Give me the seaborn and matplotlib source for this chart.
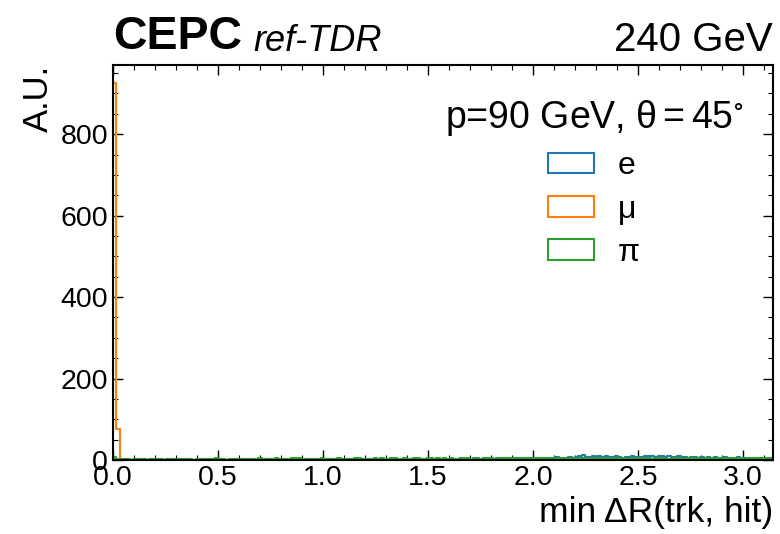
import numpy as np
import pandas as pd
import matplotlib
matplotlib.use("Agg")
import matplotlib.pyplot as plt
import seaborn as sns
from matplotlib.patches import Patch
from matplotlib.ticker import MultipleLocator

# ---------------- data ----------------
particles = ["e", "μ", "π"]
colors = ["#1f77b4", "#ff7f0e", "#2ca02c"]
bin_lo, bin_hi, n_bins = 0.0, np.pi, 200

e_counts = [
    0, 0, 0, 0, 0, 0, 0, 0, 0, 0, 0, 0, 0, 0, 0, 0, 0, 0, 0, 0,
    0, 0, 0, 0, 0, 0, 0, 0, 0, 0, 0, 1, 0, 0, 0, 0, 0, 0, 0, 0,
    0, 0, 0, 0, 0, 0, 0, 1, 0, 0, 0, 0, 0, 1, 0, 0, 0, 0, 0, 1,
    0, 0, 1, 0, 0, 1, 0, 0, 1, 0, 0, 1, 0, 1, 0, 0, 1, 0, 1, 1,
    1, 0, 1, 1, 0, 2, 1, 1, 2, 1, 1, 2, 1, 2, 3, 2, 1, 2, 3, 2,
    3, 2, 2, 3, 2, 4, 3, 2, 3, 4, 3, 3, 4, 3, 5, 3, 4, 4, 3, 5,
    4, 5, 4, 6, 5, 4, 5, 6, 5, 5, 6, 5, 4, 6, 7, 6, 5, 6, 7, 6,
    8, 10, 12, 8, 7, 9, 8, 10, 7, 9, 8, 7, 9, 8, 6, 8, 7, 9, 8, 7,
    8, 10, 9, 11, 8, 10, 9, 8, 10, 8, 7, 9, 8, 7, 6, 8, 7, 6, 7, 6,
    7, 6, 8, 6, 5, 7, 6, 5, 6, 7, 5, 6, 5, 6, 5, 4, 6, 5, 4, 5,
]
# muon: only these bins are non-empty
mu_nonzero = {0: 925, 1: 75, 60: 1}
pi_counts = [
    8, 3, 2, 2, 3, 1, 2, 2, 3, 2, 1, 3, 3, 2, 2, 1, 2, 3, 3, 2,
    2, 3, 2, 2, 1, 2, 3, 3, 2, 2, 3, 4, 3, 2, 1, 2, 2, 3, 2, 3,
    3, 2, 2, 3, 4, 3, 3, 2, 2, 4, 3, 3, 2, 3, 4, 5, 4, 3, 2, 3,
    2, 3, 3, 4, 3, 3, 2, 3, 4, 3, 3, 2, 3, 4, 4, 3, 2, 3, 3, 4,
    3, 4, 3, 3, 4, 5, 3, 3, 4, 3, 3, 4, 4, 3, 3, 5, 4, 3, 4, 3,
    4, 3, 4, 3, 3, 4, 5, 4, 3, 3, 4, 3, 4, 5, 4, 3, 3, 4, 5, 4,
    4, 4, 5, 3, 4, 4, 3, 5, 4, 4, 5, 4, 3, 4, 5, 4, 4, 5, 4, 3,
    4, 5, 4, 4, 3, 5, 4, 4, 5, 4, 3, 4, 5, 4, 4, 3, 5, 4, 4, 3,
    4, 4, 5, 3, 4, 4, 5, 4, 3, 4, 4, 5, 4, 3, 4, 5, 4, 4, 3, 4,
    5, 4, 3, 4, 4, 5, 3, 4, 4, 5, 4, 3, 4, 4, 5, 4, 3, 4, 4, 3,
]

x_label = "min ΔR(trk, hit)"
y_label = "A.U."
legend_title = r"p=90 GeV, $\theta = 45^{\circ}$"
exp_text, sub_text, energy_text = "CEPC", "ref-TDR", "240 GeV"

# ---------------- build table ----------------
edges = np.linspace(bin_lo, bin_hi, n_bins + 1)
centers = 0.5 * (edges[:-1] + edges[1:])
mu_counts = np.zeros(n_bins)
for k, v in mu_nonzero.items():
    mu_counts[k] = v
frames = []
for name, cnt in zip(particles, [e_counts, mu_counts, pi_counts]):
    frames.append(pd.DataFrame({"x": centers, "w": np.asarray(cnt, float), "particle": name}))
df = pd.concat(frames, ignore_index=True)

# ---------------- style ----------------
sns.set_theme(style="ticks")
plt.rcParams["font.family"] = ["Liberation Sans", "DejaVu Sans"]
plt.rcParams["mathtext.fontset"] = "custom"
plt.rcParams["mathtext.rm"] = "Liberation Sans"
plt.rcParams["mathtext.it"] = "Liberation Sans:italic"
plt.rcParams["mathtext.default"] = "regular"
for key in ["text.color", "axes.labelcolor", "xtick.color", "ytick.color",
            "axes.edgecolor", "xtick.labelcolor", "ytick.labelcolor"]:
    plt.rcParams[key] = "black"

fig = plt.figure(figsize=(7.8, 5.34), dpi=100)
ax = fig.add_axes([0.145, 0.1386, 0.846, 0.7397])

for name, col in zip(particles, colors):
    sns.histplot(data=df[df["particle"] == name], x="x", weights="w",
                 bins=n_bins, binrange=(bin_lo, bin_hi),
                 element="step", fill=False, color=col, linewidth=1.5, ax=ax)

ax.set_xlim(0, np.pi)
ax.set_ylim(0, 970)
ax.xaxis.set_major_locator(MultipleLocator(0.5))
ax.xaxis.set_minor_locator(MultipleLocator(0.1))
ax.yaxis.set_major_locator(MultipleLocator(200))
ax.yaxis.set_minor_locator(MultipleLocator(50))
ax.xaxis.set_major_formatter(matplotlib.ticker.FormatStrFormatter("%.1f"))
ax.tick_params(which="both", direction="in", top=True, right=True, labelsize=20.5,
               color="black", labelcolor="black")
ax.tick_params(which="major", length=7, width=1.0)
ax.tick_params(which="minor", length=3.5, width=0.8)
for s in ax.spines.values():
    s.set_linewidth(1.5)
    s.set_color("black")

ax.set_xlabel(x_label, fontsize=25.5, ha="right", x=1.0)
ax.set_ylabel(y_label, fontsize=25, ha="right", y=1.0)

ax.text(0.0, 1.015, exp_text, transform=ax.transAxes, fontsize=33.5, fontweight="bold",
        ha="left", va="bottom")
ax.text(0.212, 1.015, sub_text, transform=ax.transAxes, fontsize=26, style="italic",
        ha="left", va="bottom")
ax.text(1.0, 1.015, energy_text, transform=ax.transAxes, fontsize=29,
        ha="right", va="bottom")

handles = [Patch(facecolor="none", edgecolor=c, linewidth=1.5) for c in colors]
leg = ax.legend(handles, particles, title=legend_title, loc="upper right",
                frameon=False, fontsize=23, title_fontsize=27,
                handlelength=1.45, handleheight=0.62, labelspacing=0.42,
                handletextpad=0.75, bbox_to_anchor=(0.998, 0.99))

fig.savefig("out.png", dpi=100)
